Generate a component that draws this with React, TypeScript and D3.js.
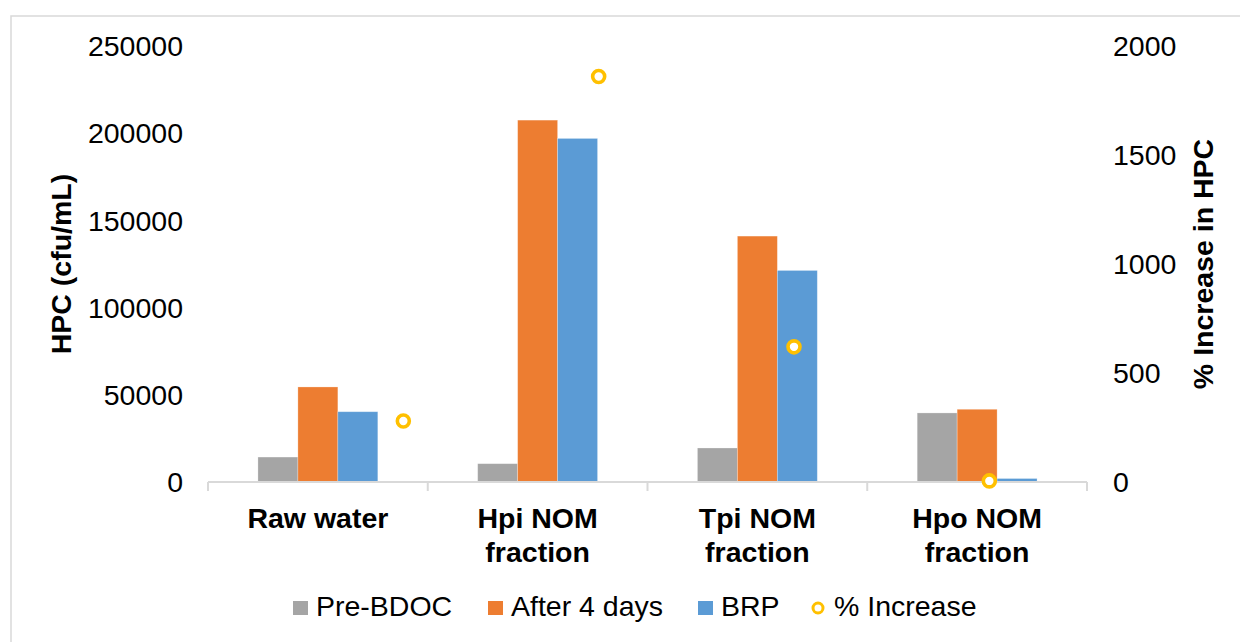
import React from "react";
import * as d3 from "d3";

// Categories and series
const categories: string[][] = [
  ["Raw water"],
  ["Hpi NOM", "fraction"],
  ["Tpi NOM", "fraction"],
  ["Hpo NOM", "fraction"],
];
const preBDOC: number[] = [14300, 10500, 19500, 39600];
const after4Days: number[] = [54500, 207500, 141000, 41700];
const brp: number[] = [40300, 197000, 121300, 2000];
const pctIncrease: number[] = [280, 1860, 620, 5];

const leftTicks: number[] = [0, 50000, 100000, 150000, 200000, 250000];
const rightTicks: number[] = [0, 500, 1000, 1500, 2000];

const seriesNames = ["Pre-BDOC", "After 4 days", "BRP"];
const seriesColors = ["#A5A5A5", "#ED7D31", "#5B9BD5"];
const markerColor = "#FFC000";

const W = 1240;
const H = 642;
const plot = { left: 208, right: 1087, top: 46, bottom: 482 };
const FONT = "'Liberation Sans', Arial, sans-serif";
const FS = 28.5;

export default function App() {
  const catKeys = categories.map((c) => c.join(" "));
  const x0 = d3.scaleBand<string>().domain(catKeys).range([plot.left, plot.right]).padding(0);
  const bw = x0.bandwidth();
  // gap width 250% of a bar: 3 bars + 2.5 bars of gap per category
  const barW = bw / 5.5;
  const x1 = d3
    .scaleBand<string>()
    .domain(seriesNames)
    .range([barW * 1.25, barW * 4.25])
    .padding(0);
  // secondary horizontal axis for the scatter series
  const xs = d3.scaleLinear().domain([0, 4.5]).range([plot.left, plot.right]);
  const yL = d3.scaleLinear().domain([0, 250000]).range([plot.bottom, plot.top]);
  const yR = d3.scaleLinear().domain([0, 2000]).range([plot.bottom, plot.top]);

  const series = [preBDOC, after4Days, brp];
  const boundaries = [...catKeys.map((k) => x0(k)!), plot.right];

  const legendItems = [
    { label: "Pre-BDOC", color: seriesColors[0], x: 293, type: "rect" },
    { label: "After 4 days", color: seriesColors[1], x: 488, type: "rect" },
    { label: "BRP", color: seriesColors[2], x: 698, type: "rect" },
    { label: "% Increase", color: markerColor, x: 811, type: "circle" },
  ];

  return (
    <svg
      width={W}
      height={H}
      style={{ position: "absolute", left: 0, top: 0, background: "#fff" }}
      fontFamily={FONT}
    >
      <rect x={11} y={16} width={W} height={H} fill="#fff" stroke="#D9D9D9" strokeWidth={1.5} />

      {/* bars */}
      {series.map((vals, si) =>
        vals.map((v, ci) => (
          <rect
            key={`b-${si}-${ci}`}
            x={x0(catKeys[ci])! + x1(seriesNames[si])!}
            y={yL(v)}
            width={x1.bandwidth()}
            height={plot.bottom - yL(v)}
            fill={seriesColors[si]}
            stroke="#fff"
            strokeOpacity={0.35}
            strokeWidth={0.75}
          />
        ))
      )}

      {/* category axis */}
      <line x1={plot.left} x2={plot.right} y1={plot.bottom} y2={plot.bottom} stroke="#D9D9D9" strokeWidth={2} />
      {boundaries.map((bx, i) => (
        <line key={`t-${i}`} x1={bx} x2={bx} y1={plot.bottom} y2={plot.bottom + 9} stroke="#D9D9D9" strokeWidth={2} />
      ))}

      {/* scatter markers */}
      {pctIncrease.map((v, i) => (
        <circle
          key={`m-${i}`}
          cx={xs(i + 1)}
          cy={yR(v)}
          r={6}
          fill="#fff"
          stroke={markerColor}
          strokeWidth={3.6}
        />
      ))}

      {/* left axis labels */}
      {leftTicks.map((t) => (
        <text key={`l-${t}`} x={183} y={yL(t)} dy="0.36em" textAnchor="end" fontSize={FS} fill="#000">
          {t}
        </text>
      ))}
      {/* right axis labels */}
      {rightTicks.map((t) => (
        <text key={`r-${t}`} x={1113} y={yR(t)} dy="0.36em" textAnchor="start" fontSize={FS} fill="#000">
          {t}
        </text>
      ))}

      {/* category labels */}
      {categories.map((lines, ci) => (
        <text
          key={`c-${ci}`}
          x={x0(catKeys[ci])! + bw / 2}
          y={528}
          textAnchor="middle"
          fontSize={FS}
          fontWeight="bold"
          fill="#000"
        >
          {lines.map((ln, li) => (
            <tspan key={li} x={x0(catKeys[ci])! + bw / 2} dy={li === 0 ? 0 : 34}>
              {ln}
            </tspan>
          ))}
        </text>
      ))}

      {/* axis titles */}
      <text
        transform={`translate(61,${(plot.top + plot.bottom) / 2}) rotate(-90)`}
        textAnchor="middle"
        dy="0.36em"
        fontSize={FS}
        fontWeight="bold"
        fill="#000"
      >
        HPC (cfu/mL)
      </text>
      <text
        transform={`translate(1203,${(plot.top + plot.bottom) / 2}) rotate(-90)`}
        textAnchor="middle"
        dy="0.36em"
        fontSize={FS}
        fontWeight="bold"
        fill="#000"
      >
        % Increase in HPC
      </text>

      {/* legend */}
      {legendItems.map((it) => (
        <g key={it.label}>
          {it.type === "rect" ? (
            <rect x={it.x} y={601} width={15} height={14} fill={it.color} />
          ) : (
            <circle cx={it.x + 7} cy={608} r={5} fill="#fff" stroke={it.color} strokeWidth={3} />
          )}
          <text x={it.x + 23} y={616} fontSize={FS} fill="#000">
            {it.label}
          </text>
        </g>
      ))}
    </svg>
  );
}
